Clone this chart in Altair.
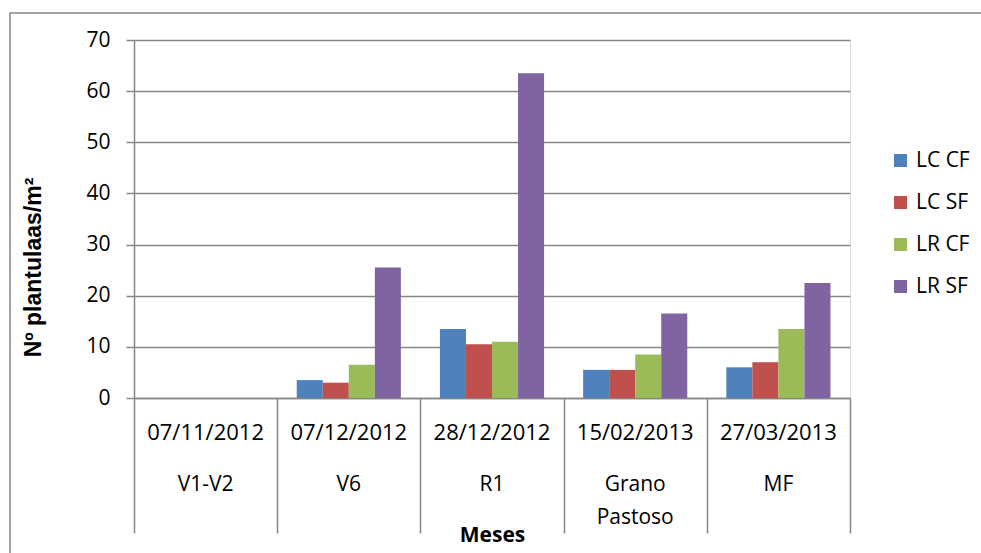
import altair as alt
import pandas as pd

fechas = ["07/11/2012", "07/12/2012", "28/12/2012", "15/02/2013", "27/03/2013"]
etapas = ["V1-V2", "V6", "R1", "Grano\nPastoso", "MF"]
series = ["LC CF", "LC SF", "LR CF", "LR SF"]
lc_cf = [0, 3.5, 13.5, 5.5, 6]
lc_sf = [0, 3, 10.5, 5.5, 7]
lr_cf = [0, 6.5, 11, 8.5, 13.5]
lr_sf = [0, 25.5, 63.5, 16.5, 22.5]
colores = ["#4F81BD", "#C0504D", "#9BBB59", "#8064A2"]

rows = []
for s, vals in zip(series, [lc_cf, lc_sf, lr_cf, lr_sf]):
    for f, v in zip(fechas, vals):
        rows.append({"fecha": f, "serie": s, "valor": v})
df = pd.DataFrame(rows)
cats = pd.DataFrame({"fecha": fechas, "etapa": etapas})

FONT = "Open Sans"
GRAY = "#868686"

xenc = alt.X("fecha:N", sort=fechas,
             scale=alt.Scale(paddingInner=0, paddingOuter=0),
             axis=alt.Axis(labels=False, ticks=True, tickBand="extent", tickSize=135,
                           tickColor=GRAY, tickWidth=1.5, domainColor=GRAY, domainWidth=1.5,
                           title="Meses", titleFont=FONT, titleFontSize=21,
                           titleFontWeight="bold", titleColor="black",
                           titleY=137, titleBaseline="middle", grid=False))

bars = alt.Chart(df).mark_bar().encode(
    x=xenc,
    xOffset=alt.XOffset("serie:N", sort=series,
                        scale=alt.Scale(paddingInner=0, paddingOuter=0.75)),
    y=alt.Y("valor:Q", scale=alt.Scale(domain=[0, 70], nice=False),
            axis=alt.Axis(values=[0, 10, 20, 30, 40, 50, 60, 70], labelFont=FONT,
                          labelFontSize=21, labelColor="black", labelPadding=16,
                          tickSize=8, tickColor=GRAY, tickWidth=1.5,
                          domainColor=GRAY, domainWidth=1.5,
                          gridColor=GRAY, gridWidth=1.5,
                          title="Nº plantulaas/m²", titleFont="Liberation Sans",
                          titleFontSize=23, titleFontWeight="bold", titleColor="black",
                          titleX=-101, titleY=227, titleAngle=-90,
                          titleAlign="center", titleBaseline="middle")),
    color=alt.Color("serie:N", sort=series,
                    scale=alt.Scale(domain=series, range=colores),
                    legend=alt.Legend(title=None, orient="none", legendX=756, legendY=110,
                                      symbolType="square", symbolSize=170,
                                      symbolStrokeWidth=0, labelFont=FONT,
                                      labelFontSize=21, labelColor="black",
                                      labelOffset=5, rowPadding=20)),
)

date_text = alt.Chart(cats).mark_text(font=FONT, fontSize=22, color="black",
                                      baseline="alphabetic", align="center").encode(
    x=alt.X("fecha:N", sort=fechas), y=alt.value(400), text="fecha:N")

stage_text = alt.Chart(cats).mark_text(font=FONT, fontSize=21, color="black",
                                       baseline="alphabetic", align="center",
                                       lineBreak="\n", lineHeight=33).encode(
    x=alt.X("fecha:N", sort=fechas), y=alt.value(451), text="etapa:N")

frame = alt.Chart(pd.DataFrame({"a": [0]})).mark_rect(
    fill=None, stroke=GRAY, strokeWidth=1.5).encode(
    x=alt.value(-124), x2=alt.value(870), y=alt.value(-27), y2=alt.value(530))

chart = alt.layer(frame, bars, date_text, stage_text).properties(
    width=716, height=358,
    autosize=alt.AutoSizeParams(type="none"),
    padding={"left": 134, "top": 40, "right": 131, "bottom": 155},
).configure_view(stroke=None).configure(background="white")

chart.save("out.html", embed_options={"renderer": "svg", "actions": False})
